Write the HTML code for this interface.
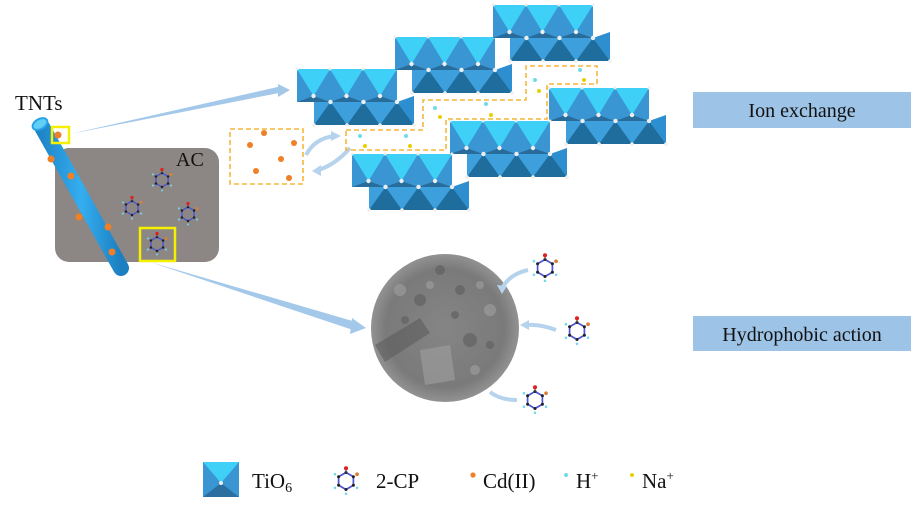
<!DOCTYPE html>
<html><head><meta charset="utf-8"><style>
html,body{margin:0;padding:0;background:#fff;}
svg{display:block;}
text{font-family:"Liberation Serif",serif;fill:#111;}
</style></head><body>
<svg width="915" height="509" viewBox="0 0 915 509" xmlns="http://www.w3.org/2000/svg">
<defs>
<radialGradient id="sem" cx="50%" cy="50%" r="50%">
<stop offset="0" stop-color="#858585"/><stop offset="0.8" stop-color="#7a7a7a"/><stop offset="1" stop-color="#929292"/>
</radialGradient>
<linearGradient id="tube" x1="0" y1="0" x2="1" y2="0">
<stop offset="0" stop-color="#1e86c8"/><stop offset="0.5" stop-color="#35aef0"/><stop offset="1" stop-color="#1b7fc0"/>
</linearGradient>
<g id="slab">
<rect x="0" y="0" width="100" height="33" fill="#3a96d2"/>
<polygon points="0,0 33,0 16.5,27" fill="#3fd0f8"/>
<polygon points="33,0 66,0 49.5,27" fill="#3fd0f8"/>
<polygon points="66,0 100,0 83,27" fill="#3fd0f8"/>
<polygon points="0,33 16.5,27 33,33 49.5,27 66,33 83,27 100,33" fill="#286c9c"/>
<rect x="17" y="33" width="100" height="23" fill="#3d9fdc"/>
<polygon points="17,56 33.5,33 50,56" fill="#1f6d9d"/>
<polygon points="50,56 66.5,33 83,56" fill="#1f6d9d"/>
<polygon points="83,56 100,33 117,56" fill="#1f6d9d"/>
<polygon points="100,33 117,27 117,56" fill="#2d8fd0"/>
<g fill="#eee">
<circle cx="16.5" cy="27" r="2.2"/><circle cx="49.5" cy="27" r="2.2"/><circle cx="83" cy="27" r="2.2"/>
<circle cx="33.5" cy="33" r="2.2"/><circle cx="66.5" cy="33" r="2.2"/><circle cx="100" cy="33" r="2.2"/>
<circle cx="17" cy="56" r="1.8"/><circle cx="50" cy="56" r="1.8"/><circle cx="83" cy="56" r="1.8"/><circle cx="117" cy="56" r="1.8"/>
<circle cx="0" cy="0" r="1.5"/><circle cx="33" cy="0" r="1.5"/><circle cx="66" cy="0" r="1.5"/><circle cx="100" cy="0" r="1.5"/>
</g>
</g>
<g id="mol0">
<polygon points="0,-10 8.7,-5 8.7,5 0,10 -8.7,5 -8.7,-5" fill="none" stroke="#4b55d8" stroke-width="2"/>
<g fill="#222"><circle cx="0" cy="-10" r="1.8"/><circle cx="8.7" cy="-5" r="1.8"/><circle cx="8.7" cy="5" r="1.8"/><circle cx="0" cy="10" r="1.8"/><circle cx="-8.7" cy="5" r="1.8"/><circle cx="-8.7" cy="-5" r="1.8"/></g>
<line x1="0" y1="-10" x2="0" y2="-15" stroke="#555" stroke-width="1.5"/>
<circle cx="0" cy="-15" r="2.4" fill="#e02020"/>
<circle cx="13" cy="-8" r="2.2" fill="#d8803a"/>
<g fill="#6fd8ee"><circle cx="-13" cy="-8" r="1.5"/><circle cx="-13" cy="8" r="1.5"/><circle cx="0" cy="15" r="1.5"/><circle cx="13" cy="8" r="1.5"/></g>
</g>
<g id="mol"><use href="#mol0" transform="scale(0.85)"/></g>
<g id="molS"><use href="#mol0" transform="scale(0.7)"/></g>
</defs>

<polygon points="70,134 282,86 284,92" fill="#a3c8ea"/>
<polygon points="278,84 290,90 278,97" fill="#a3c8ea"/>
<polygon points="150,262 356,322 353,330" fill="#a3c8ea"/>
<polygon points="352,318 366,328 350,334" fill="#a3c8ea"/>

<rect x="55" y="148" width="164" height="114" rx="14" fill="#8c8784"/>
<text x="176" y="166" font-size="20">AC</text>
<use href="#molS" x="162" y="180"/>
<use href="#molS" x="132" y="208"/>
<use href="#molS" x="188" y="214"/>
<use href="#molS" x="157" y="244"/>
<rect x="140" y="228" width="35" height="33" fill="none" stroke="#f5ef00" stroke-width="2.5"/>

<line x1="42" y1="127" x2="121" y2="268" stroke="url(#tube)" stroke-width="16" stroke-linecap="round"/>
<ellipse cx="40" cy="124" rx="8" ry="5" transform="rotate(-30 40 124)" fill="#5fd0f5" stroke="#2aa2e5" stroke-width="2"/>
<g fill="#f07f26">
<circle cx="58" cy="135" r="3.5"/><circle cx="51" cy="159" r="3.5"/><circle cx="71" cy="176" r="3.5"/>
<circle cx="79" cy="217" r="3.5"/><circle cx="108" cy="227" r="3.5"/><circle cx="112" cy="252" r="3.5"/>
</g>
<rect x="52" y="127" width="17" height="16" fill="none" stroke="#f5ef00" stroke-width="2.5"/>
<text x="15" y="110" font-size="21">TNTs</text>

<rect x="230" y="129" width="73" height="55" fill="none" stroke="#f5b73a" stroke-width="1.6" stroke-dasharray="5,3"/>
<g fill="#f07f26">
<circle cx="264" cy="133" r="3"/><circle cx="250" cy="145" r="3"/><circle cx="294" cy="143" r="3"/>
<circle cx="281" cy="159" r="3"/><circle cx="256" cy="171" r="3"/><circle cx="289" cy="178" r="3"/>
</g>
<path d="M306,155 Q315,138 335,136" fill="none" stroke="#b6d3ee" stroke-width="4"/>
<polygon points="331,131 341,136 331,141" fill="#b6d3ee"/>
<path d="M350,148 Q335,165 318,170" fill="none" stroke="#b6d3ee" stroke-width="4"/>
<polygon points="321,165 312,171 321,176" fill="#b6d3ee"/>

<use href="#slab" x="297" y="69"/>
<use href="#slab" x="395" y="37"/>
<use href="#slab" x="493" y="5"/>
<use href="#slab" x="549" y="88"/>
<use href="#slab" x="450" y="121"/>
<use href="#slab" x="352" y="154"/>

<polygon points="346,130 423,130 423,100 526,100 526,66 597,66 597,84 547,84 547,119 446,119 446,150 346,150" fill="none" stroke="#f5b73a" stroke-width="1.6" stroke-dasharray="5,3"/>
<g fill="#6fdcec"><circle cx="360" cy="136" r="2"/><circle cx="406" cy="136" r="2"/><circle cx="435" cy="108" r="2"/><circle cx="486" cy="104" r="2"/><circle cx="535" cy="80" r="2"/><circle cx="580" cy="70" r="2"/></g>
<g fill="#e8d000"><circle cx="365" cy="146" r="2"/><circle cx="410" cy="146" r="2"/><circle cx="440" cy="117" r="2"/><circle cx="491" cy="115" r="2"/><circle cx="539" cy="91" r="2"/><circle cx="584" cy="80" r="2"/></g>

<circle cx="445" cy="328" r="74" fill="url(#sem)"/>
<g fill="#5a5a5a" opacity="0.55">
<polygon points="375,345 420,318 430,333 385,362"/>
<circle cx="420" cy="300" r="6"/><circle cx="460" cy="290" r="5"/><circle cx="470" cy="340" r="7"/><circle cx="440" cy="270" r="5"/>
<circle cx="405" cy="320" r="4"/><circle cx="490" cy="345" r="4"/><circle cx="455" cy="315" r="4"/>
</g>
<g fill="#a0a0a0" opacity="0.6">
<polygon points="420,350 450,345 455,380 425,385"/>
<circle cx="400" cy="290" r="6"/><circle cx="490" cy="310" r="6"/><circle cx="475" cy="370" r="5"/>
<circle cx="430" cy="285" r="4"/><circle cx="480" cy="285" r="4"/>
</g>

<use href="#mol" x="545" y="268"/>
<use href="#mol" x="577" y="331"/>
<use href="#mol" x="535" y="400"/>
<path d="M528,270 Q510,274 503,287" fill="none" stroke="#b6d3ee" stroke-width="4"/>
<polygon points="497,285 502,294 507,286" fill="#b6d3ee"/>
<path d="M556,330 Q540,324 528,325" fill="none" stroke="#b6d3ee" stroke-width="4"/>
<polygon points="529,320 520,325 529,330" fill="#b6d3ee"/>
<path d="M517,400 Q500,400 490,392" fill="none" stroke="#b6d3ee" stroke-width="4"/>

<rect x="693" y="92" width="218" height="36" fill="#9dc3e6"/>
<text x="802" y="117" font-size="20" text-anchor="middle">Ion exchange</text>
<rect x="693" y="316" width="218" height="35" fill="#9dc3e6"/>
<text x="802" y="341" font-size="20" text-anchor="middle">Hydrophobic action</text>

<rect x="203" y="462" width="36" height="35" fill="#3a96d2"/>
<polygon points="203,462 239,462 221,483" fill="#3fd0f8"/>
<polygon points="203,497 221,483 239,497" fill="#2a6f9f"/>
<circle cx="221" cy="483" r="2" fill="#eee"/>
<text x="252" y="488" font-size="21">TiO<tspan font-size="14" dy="4">6</tspan></text>
<use href="#mol" x="346" y="481"/>
<text x="376" y="488" font-size="21">2-CP</text>
<circle cx="473" cy="475" r="2.6" fill="#f07f26"/>
<text x="483" y="488" font-size="21">Cd(II)</text>
<circle cx="566" cy="475" r="2" fill="#6fdcec"/>
<text x="576" y="488" font-size="21">H<tspan font-size="13" dy="-8">+</tspan></text>
<circle cx="632" cy="475" r="2" fill="#e8d000"/>
<text x="642" y="488" font-size="21">Na<tspan font-size="13" dy="-8">+</tspan></text>
</svg>
</body></html>
